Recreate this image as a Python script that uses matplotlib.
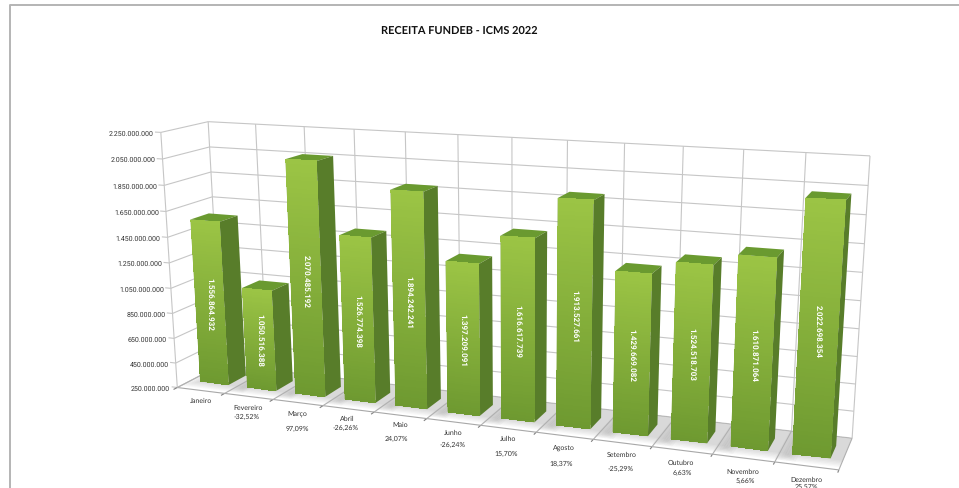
import numpy as np
import matplotlib
matplotlib.use("Agg")
import matplotlib.pyplot as plt
from matplotlib.patches import Polygon

# ---- data ----
months = ["Janeiro","Fevereiro","Março","Abril","Maio","Junho","Julho","Agosto",
          "Setembro","Outubro","Novembro","Dezembro"]
values = [1556864932,1050516388,2070485192,1526774398,1894242241,1397209091,
          1616617739,1913527661,1429669082,1524518703,1610871064,2022698354]
variation = ["", "-32,52%","97,09%","-26,26%","24,07%","-26,24%","15,70%","18,37%",
             "-25,29%","6,63%","5,66%","25,57%"]
ticks = list(range(250000000, 2250000001, 200000000))
title = "RECEITA FUNDEB - ICMS 2022"

def br(n):
    return f"{n:,}".replace(",", ".")

# ---- layout ----
plt.rcParams["font.family"] = ["Lato", "DejaVu Sans"]
plt.rcParams["text.hinting"] = "no_hinting"
plt.rcParams["text.hinting_factor"] = 1
plt.rcParams["text.kerning_factor"] = 6
NUM_FONT = ["Roboto", "DejaVu Sans"]
W, H = 959, 489
fig = plt.figure(figsize=(W/100, H/100), dpi=100)
ax = fig.add_axes([0, 0, 1, 1])
ax.set_xlim(0, W); ax.set_ylim(H, 0); ax.axis("off")

VMIN, VMAX = ticks[0], ticks[-1]
# camera calibration: (category, value fraction, depth) -> pixel
calib = [((0,0,0),(177,387)),((12,0,0),(839,472)),((0,1,0),(161,134)),
         ((0,1,1),(208,122)),((0,0,1),(222,367)),((12,1,1),(870,157)),((12,0,1),(852,438))]
A = []
for (x,y,z),(u,v) in calib:
    A.append([x,y,z,1,0,0,0,0,-u*x,-u*y,-u*z,-u])
    A.append([0,0,0,0,x,y,z,1,-v*x,-v*y,-v*z,-v])
P = np.linalg.svd(np.array(A,float))[2][-1].reshape(3,4)

def proj(x, val, z):
    """Category position, value, depth -> pixel position."""
    f = (np.asarray(val,float)-VMIN)/(VMAX-VMIN)
    x, f, z = np.broadcast_arrays(np.asarray(x,float), f, np.asarray(z,float))
    a, b, c = [P[k,0]*x + P[k,1]*f + P[k,2]*z + P[k,3] for k in range(3)]
    return a/c, b/c

def poly(pts, **kw):
    xy = [tuple(float(c) for c in proj(*p)) for p in pts]
    ax.add_patch(Polygon(xy, closed=True, **kw))

GRID = "#c6c6c6"
TXT = "#333333"
def seg(a, b, color=GRID, lw=0.8, zorder=1):
    pa, pb = proj(*a), proj(*b)
    ax.plot([pa[0],pb[0]],[pa[1],pb[1]], color=color, lw=lw, solid_capstyle="butt", zorder=zorder)

# frame
ax.plot([10,10,W],[H,6,6], color="#b4b4b4", lw=1.4, zorder=0)

# walls, gridlines
for t in ticks:
    seg((0,t,0),(0,t,1)); seg((0,t,1),(12,t,1))
    seg((0,t,0),(-0.12,t,0))
    xx, yy = proj(0,t,0)
    ax.text(float(xx)-7, float(yy)+0.5, br(t), ha="right", va="center", fontsize=4.7,
            color=TXT, family=NUM_FONT)
for i in range(13):
    seg((i,VMIN,1),(i,VMAX,1))
    seg((i,VMIN,0),(i,VMIN,1), color="#b0b0b0", zorder=2.5)
    seg((i,VMIN,0),(i,VMIN,-0.08), color="#808080")
seg((0,VMIN,0),(0,VMAX,0))
seg((0,VMIN,0),(12,VMIN,0), color="#a8a8a8")

# bars
GAP = 0.195; Z0, Z1 = 0.30, 0.70
# floor shadows
for i in range(12):
    for k in np.linspace(0.0,0.20,6):
        xa = max(0, i+GAP-0.02-k); xb = min(12, i+1-GAP+0.30+k)
        za = Z0-0.02-k
        poly([(xa,VMIN,za),(xb,VMIN,za),(xb,VMIN,1),(xa,VMIN,1)],
             fc="#666666", ec="none", alpha=0.045, zorder=2)

C_BOT = np.array([0.43,0.60,0.19])
C_TOP = np.array([0.61,0.77,0.27])

def gradient_face(x0, x1, v, z, order):
    m = 60
    fr = np.linspace(0,1,m+1)
    xm = np.tile(np.array([x0,x1]),(m+1,1))
    vm = np.tile((VMIN+(v-VMIN)*fr)[:,None],(1,2))
    um, wm = proj(xm, vm, z)
    ft = ((np.arange(m)+0.5)/m)[:,None,None]
    cc = C_BOT*(1-ft)+C_TOP*ft
    ax.pcolormesh(um, wm, np.clip(cc,0,1), shading="flat", zorder=order, edgecolors="none", antialiased=False)

for i in range(12):
    order = 3+i*0.01
    v = values[i]
    x0, x1 = i+GAP, i+1-GAP
    poly([(x0,v,Z0),(x1,v,Z0),(x1,v,Z1),(x0,v,Z1)], fc="#6a9a30", ec="none", zorder=order)
    poly([(x1,VMIN,Z0),(x1,v,Z0),(x1,v,Z1),(x1,VMIN,Z1)], fc="#587d2a", ec="none", zorder=order)
    poly([(x0,VMIN,Z0),(x1,VMIN,Z0),(x1,v,Z0),(x0,v,Z0)], fc="#7fa838", ec="none", zorder=order)
    gradient_face(x0,x1,v,Z0,order)
    cx, cy = proj((x0+x1)/2,(VMIN+v)/2,Z0)
    ax.text(float(cx), float(cy), br(v), rotation=270, ha="center", va="center",
            fontsize=5.9, color="white", fontweight="bold", zorder=5, family=NUM_FONT)

# labels
month_xy = [(201,401),(248,408),(297,414),(347,419),(400,425),(453,433),(508,439),
            (564,448),(622,455),(681,463),(743,472),(806,480)]
var_xy = [None,(247,417.5),(297,429),(346,428),(396,439),(453,445),(506,454),
          (561,464),(621,469),(682,473),(745,481),(806,487)]
for m, (x,y), s, q in zip(months, month_xy, variation, var_xy):
    ax.text(x, y, m, ha="center", va="center", fontsize=4.9, color=TXT)
    if q:
        ax.text(q[0], q[1], s, ha="center", va="center", fontsize=4.9, color=TXT)

ax.text(459, 31, title, ha="center", va="center", fontsize=7.95, fontweight="bold", color="#111111")
fig.savefig("out.png", dpi=100, facecolor="white")
